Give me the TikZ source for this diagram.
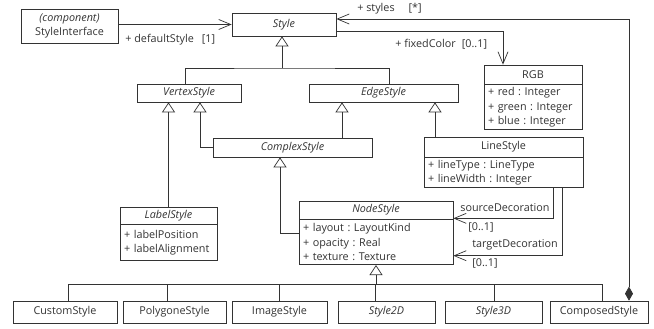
\documentclass[tikz,border=0pt]{standalone}
\usepackage{fontspec}
\setmainfont{Open Sans}
\usetikzlibrary{arrows.meta}

\newcommand{\umlfont}{\fontsize{10.8}{14.5}\selectfont\frenchspacing\hyphenpenalty=10000\exhyphenpenalty=10000}

\tikzset{
  cls/.style={draw, inner sep=0pt, font=\umlfont},
  abs/.style={cls, font=\umlfont\itshape},
  attrs/.style={draw, anchor=north west, align=left, inner xsep=4pt, inner ysep=0pt, text width=#1, font=\umlfont},
  lbl/.style={anchor=west, inner sep=0pt, font=\umlfont},
  inh/.style={-{Triangle[open,length=10pt,width=13pt]}},
  nav/.style={-{Straight Barb[length=12pt,width=10pt]}},
}

\begin{document}
\begin{tikzpicture}[x=1pt,y=-1pt,line width=0.7pt,color=black!80]

% Background
\fill[white] (0,0) rectangle (654,329);
\useasboundingbox (0,0) rectangle (654,329);

% Top
\node[cls, minimum width=97, minimum height=34, align=center] (iface) at (69.5,26) {{\itshape (component)}\\StyleInterface};
\node[abs, minimum width=104, minimum height=23] (style) at (284,24.5) {Style};

% RGB
\node[cls, minimum width=98, minimum height=19] (rgb) at (533,74.5) {RGB};
\node[attrs=90, minimum height=45] (rgbA) at (rgb.south west) {+ red : Integer\\+ green : Integer\\+ blue : Integer};

% Abstract styles
\node[abs, minimum width=104, minimum height=18] (vertex) at (189,93) {VertexStyle};
\node[abs, minimum width=149, minimum height=18] (edge) at (383.5,93) {EdgeStyle};
\node[abs, minimum width=159, minimum height=19] (complex) at (292.5,147.5) {ComplexStyle};

% LineStyle
\node[cls, minimum width=159, minimum height=20] (line) at (503.5,147) {LineStyle};
\node[attrs=151, minimum height=30] (lineA) at (line.south west) {+ lineType : LineType\\+ lineWidth : Integer};

% LabelStyle
\node[abs, minimum width=97, minimum height=17] (label) at (168.5,215.5) {LabelStyle};
\node[attrs=89, minimum height=36] (labelA) at (label.south west) {+ labelPosition\\+ labelAlignment};

% NodeStyle
\node[abs, minimum width=154, minimum height=18] (nodeH) at (376,210) {NodeStyle};
\node[attrs=146, minimum height=45] (nodeA) at (nodeH.south west) {+ layout : LayoutKind\\+ opacity : Real\\+ texture : Texture};

% Concrete styles
\node[cls, minimum width=104, minimum height=22] (custom) at (65,312) {CustomStyle};
\node[cls, minimum width=103, minimum height=22] (polygone) at (174.5,312) {PolygoneStyle};
\node[cls, minimum width=95, minimum height=22] (image) at (279.5,312) {ImageStyle};
\node[abs, minimum width=97, minimum height=22] (twod) at (386.5,312) {Style2D};
\node[abs, minimum width=97, minimum height=22] (threed) at (493.5,312) {Style3D};
\node[cls, minimum width=98, minimum height=22] (composed) at (599,312) {ComposedStyle};

% Generalizations
\coordinate (styleBar) at (282,68);
\draw ([xshift=-4]vertex.north) |- (styleBar) -| ([xshift=5.5]edge.north);
\draw[inh] (styleBar) -- (styleBar |- style.south);
\draw[inh] (label.north) -- (label.north |- vertex.south);
\draw[inh] (complex.west) -| ([xshift=11]vertex.south);
\draw[inh] ([xshift=49.5]complex.north) -- ([xshift=49.5]complex.north |- edge.south);
\draw[inh] ([xshift=-68.5]line.north) -- ([xshift=-68.5]line.north |- edge.south);
\draw[inh] ([yshift=8.5]nodeA.west) -| ([xshift=-12.5]complex.south);

\coordinate (bar) at (376,284);
\draw[inh] (bar) -- (bar |- nodeA.south);
\foreach \n/\s in {custom/3, polygone/-7.5, image/0, twod/-11.5, threed/0.5, composed/3}
  \draw ([xshift=\s]\n.north) |- (bar);

% Associations
\draw[nav] (iface.east |- style.west) -- (style.west);
\node[lbl] (defL) at (125,40) {+ defaultStyle\hspace{8pt}[1]};

\draw[nav] ([yshift=-6.5]style.east) -| ([xshift=-30]rgb.north);
\node[lbl] (colL) at (395,44) {+ fixedColor\hspace{6pt}[0..1]};

\draw[{Diamond[length=14pt,width=8pt]}-{Straight Barb[length=12pt,width=10pt]}] ([xshift=30]composed.north) |- ([yshift=5.5]style.east);
\node[lbl] (stL) at (357,9) {+ styles\hspace{14pt}[*]};

\draw[nav] ([xshift=49.5]lineA.south) |- ([yshift=1]nodeH.south east);
\node[lbl] (srcL) at (460,208) {sourceDecoration};
\node[lbl] (srcM) at (468,227) {[0..1]};

\draw[nav] ([xshift=58.5]lineA.south) |- ([yshift=-13.5]nodeA.east);
\node[lbl] (tgtL) at (472,245) {targetDecoration};
\node[lbl] (tgtM) at (472,263) {[0..1]};

\end{tikzpicture}
\end{document}
